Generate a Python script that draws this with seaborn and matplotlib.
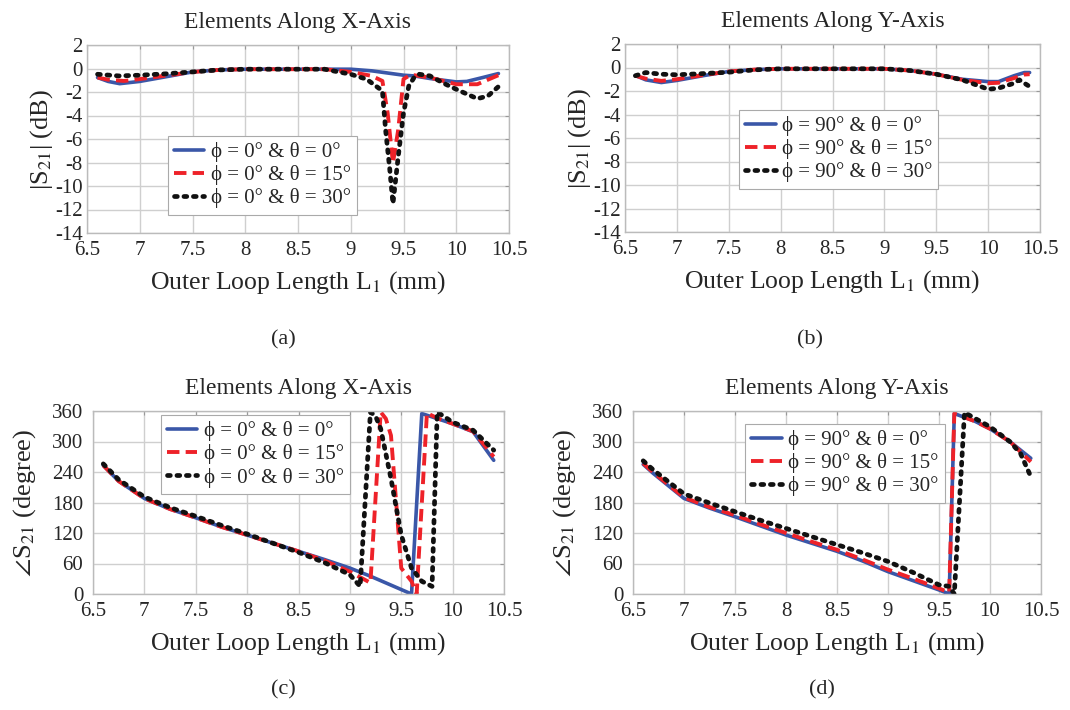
import numpy as np
import pandas as pd
import matplotlib
matplotlib.use("Agg")
import matplotlib.pyplot as plt
import seaborn as sns

# ---------------- data ----------------
# Panel (a): |S21| elements along X-axis
a_x0 = [6.6, 6.7, 6.81, 7.0, 7.25, 7.5, 7.75, 8.0, 8.5, 9.0, 9.2, 9.5, 9.6, 9.75, 10.0, 10.1, 10.25, 10.4]
a_y0 = [-0.77, -1.1, -1.29, -1.1, -0.7, -0.29, -0.12, -0.06, -0.06, -0.06, -0.2, -0.57, -0.63, -0.85, -1.14, -1.1, -0.77, -0.43]
a_x15 = [6.6, 6.7, 6.85, 7.0, 7.25, 7.5, 7.75, 8.0, 8.75, 9.0, 9.2, 9.3, 9.35, 9.4, 9.45, 9.5, 9.55, 9.6, 9.75, 10.0, 10.2, 10.4]
a_y15 = [-0.77, -0.95, -1.06, -0.9, -0.6, -0.3, -0.12, -0.06, -0.06, -0.29, -0.63, -1.06, -3.8, -8.06, -5.2, -0.9, -0.63, -0.57, -0.77, -1.34, -1.34, -0.57]
a_x30 = [6.6, 6.8, 7.0, 7.25, 7.5, 7.75, 8.0, 8.75, 9.0, 9.15, 9.3, 9.33, 9.37, 9.4, 9.45, 9.5, 9.55, 9.6, 9.65, 9.75, 9.9, 10.0, 10.2, 10.3, 10.4]
a_y30 = [-0.49, -0.63, -0.57, -0.45, -0.29, -0.12, -0.06, -0.06, -0.49, -0.91, -1.9, -5.2, -8.6, -11.5, -7.5, -3.8, -1.5, -0.77, -0.49, -0.63, -1.34, -1.77, -2.57, -2.34, -1.54]

# Panel (b): |S21| elements along Y-axis
b_x0 = [6.6, 6.7, 6.85, 7.0, 7.25, 7.5, 7.75, 8.0, 9.0, 9.25, 9.5, 9.75, 10.0, 10.1, 10.25, 10.35, 10.4]
b_y0 = [-0.68, -1.05, -1.28, -1.1, -0.7, -0.34, -0.18, -0.11, -0.11, -0.26, -0.57, -1.0, -1.2, -1.2, -0.7, -0.43, -0.43]
b_x15 = [6.6, 6.7, 6.85, 7.0, 7.25, 7.5, 7.75, 8.0, 9.0, 9.25, 9.5, 9.75, 10.0, 10.1, 10.25, 10.35, 10.4]
b_y15 = [-0.7, -0.95, -1.14, -1.0, -0.65, -0.34, -0.18, -0.11, -0.11, -0.26, -0.57, -1.05, -1.34, -1.3, -0.9, -0.6, -0.57]
b_x30 = [6.6, 6.7, 6.85, 7.0, 7.25, 7.5, 7.75, 8.0, 9.0, 9.25, 9.5, 9.75, 10.0, 10.1, 10.25, 10.3, 10.35, 10.4]
b_y30 = [-0.7, -0.43, -0.57, -0.62, -0.52, -0.4, -0.2, -0.11, -0.11, -0.26, -0.57, -1.05, -1.85, -1.76, -1.34, -1.05, -1.34, -1.62]

# Panel (c): phase, elements along X-axis
c_x0 = [6.6, 6.75, 7.0, 7.25, 7.5, 7.75, 8.0, 8.25, 8.5, 8.75, 9.0, 9.2, 9.6, 9.7, 9.85, 10.0, 10.2, 10.4]
c_y0 = [253, 222, 188, 167, 150, 132, 116, 100, 84, 68, 51, 35, 0, 355, 345, 335, 319, 263]
c_x15 = [6.6, 6.75, 7.0, 7.25, 7.5, 7.75, 8.0, 8.25, 8.5, 8.75, 9.0, 9.2, 9.3, 9.35, 9.4, 9.5, 9.6, 9.65, 9.75, 9.85, 10.0, 10.2, 10.4]
c_y15 = [253, 222, 188, 167, 150, 132, 116, 100, 84, 66, 44, 22, 358, 345, 312, 51, 25, 0, 356, 346, 335, 320, 270]
c_x30 = [6.6, 6.75, 7.0, 7.25, 7.5, 7.75, 8.0, 8.25, 8.5, 8.75, 9.0, 9.1, 9.2, 9.25, 9.3, 9.4, 9.5, 9.6, 9.7, 9.8, 9.85, 10.0, 10.2, 10.4]
c_y30 = [256, 225, 191, 170, 153, 135, 118, 100, 82, 62, 38, 15, 358, 350, 325, 227, 116, 51, 25, 15, 358, 338, 322, 283]

# Panel (d): phase, elements along Y-axis
d_x0 = [6.6, 6.7, 7.0, 7.25, 7.5, 7.75, 8.0, 8.25, 8.5, 8.75, 9.0, 9.25, 9.5, 9.6, 9.65, 9.85, 10.0, 10.2, 10.4]
d_y0 = [255, 237, 188, 169, 152, 134, 116, 100, 84, 65, 44, 26, 8, 0, 355, 340, 325, 299, 267]
d_x15 = [6.6, 6.7, 7.0, 7.25, 7.5, 7.75, 8.0, 8.25, 8.5, 8.75, 9.0, 9.25, 9.5, 9.6, 9.65, 9.85, 10.0, 10.2, 10.4]
d_y15 = [257, 239, 190, 171, 155, 137, 120, 103, 87, 68, 48, 30, 11, 3, 355, 340, 325, 299, 260]
d_x30 = [6.6, 6.7, 7.0, 7.25, 7.5, 7.75, 8.0, 8.25, 8.5, 8.75, 9.0, 9.25, 9.5, 9.6, 9.65, 9.75, 10.0, 10.2, 10.3, 10.4]
d_y30 = [262, 244, 197, 179, 162, 145, 129, 113, 97, 81, 64, 42, 18, 15, 0, 357, 329, 299, 276, 231]

x_ticks = [6.5, 7, 7.5, 8, 8.5, 9, 9.5, 10, 10.5]
x_ticklabels = ["6.5", "7", "7.5", "8", "8.5", "9", "9.5", "10", "10.5"]
mag_ticks = [2, 0, -2, -4, -6, -8, -10, -12, -14]
phase_ticks = [0, 60, 120, 180, 240, 300, 360]

titles = ["Elements Along X-Axis", "Elements Along Y-Axis", "Elements Along X-Axis", "Elements Along Y-Axis"]
captions = ["(a)", "(b)", "(c)", "(d)"]
labels_x = ["\u03d5 = 0\u00b0 & \u03b8 = 0\u00b0", "\u03d5 = 0\u00b0 & \u03b8 = 15\u00b0", "\u03d5 = 0\u00b0 & \u03b8 = 30\u00b0"]
labels_y = ["\u03d5 = 90\u00b0 & \u03b8 = 0\u00b0", "\u03d5 = 90\u00b0 & \u03b8 = 15\u00b0", "\u03d5 = 90\u00b0 & \u03b8 = 30\u00b0"]

# ---------------- style ----------------
sns.set_style("white")
SERIF = ["Liberation Serif", "DejaVu Serif"]
plt.rcParams["font.family"] = SERIF
plt.rcParams["mathtext.fontset"] = "stix"

BLUE = "#3a57a8"
RED = "#ee2229"
BLACK = "#111111"

fig = plt.figure(figsize=(10.7, 7.1), dpi=100)

W, H = 1070.0, 710.0
def mk_axes(l, t, r, b):
    return fig.add_axes([l / W, 1 - b / H, (r - l) / W, (b - t) / H])

axes = [
    mk_axes(87, 45, 509, 233),
    mk_axes(625, 44, 1040, 232),
    mk_axes(93, 411, 504, 594),
    mk_axes(633, 411, 1041, 594),
]

panel_data = [
    (a_x0, a_y0, a_x15, a_y15, a_x30, a_y30),
    (b_x0, b_y0, b_x15, b_y15, b_x30, b_y30),
    (c_x0, c_y0, c_x15, c_y15, c_x30, c_y30),
    (d_x0, d_y0, d_x15, d_y15, d_x30, d_y30),
]
legend_anchor = [(0.192, 0.516), (0.275, 0.649), (0.165, 0.978), (0.275, 0.929)]
caption_pos = [(283, 340), (810, 340), (283, 690), (822, 690)]

for i, ax in enumerate(axes):
    x0, y0, x15, y15, x30, y30 = panel_data[i]
    labs = labels_x if i in (0, 2) else labels_y
    sns.lineplot(x=x0, y=y0, ax=ax, color=BLUE, linewidth=2.6, label=labs[0], sort=False)
    sns.lineplot(x=x15, y=y15, ax=ax, color=RED, linewidth=2.8, linestyle=(0, (3.2, 1.6)), label=labs[1], sort=False)
    sns.lineplot(x=x30, y=y30, ax=ax, color=BLACK, linewidth=3.4, linestyle=(0, (0.6, 1.4)),
                 dash_capstyle="round", label=labs[2], sort=False)

    ax.set_xlim(6.5, 10.5)
    ax.set_xticks(x_ticks)
    ax.set_xticklabels(x_ticklabels)
    if i < 2:
        ax.set_ylim(-14, 2)
        ax.set_yticks(mag_ticks)
        ax.set_yticklabels([str(v) for v in mag_ticks])
        ax.set_ylabel("|S$_{21}$| (dB)", fontsize=19, labelpad=0)
        ypad = 3
    else:
        ax.set_ylim(0, 360)
        ax.set_yticks(phase_ticks)
        ax.set_yticklabels([str(v) for v in phase_ticks])
        ax.set_ylabel(r"$\angle$S$_{21}$ (degree)", fontsize=19, labelpad=10)
        ypad = 7
    ax.set_xlabel("Outer Loop Length L$_{1}$ (mm)", fontsize=18.5, labelpad=6)
    ax.set_title(titles[i], fontsize=17, pad=12)
    ax.grid(True, color="#cfcfcf", linewidth=1.0)
    ax.tick_params(axis="both", labelsize=15, direction="in", length=3, color="#999999",
                   top=True, right=True)
    ax.tick_params(axis="x", pad=6)
    ax.tick_params(axis="y", pad=ypad)
    for s in ax.spines.values():
        s.set_color("#bbbbbb")
        s.set_linewidth(1.0)
    leg = ax.legend(loc="upper left", bbox_to_anchor=legend_anchor[i], borderaxespad=0,
                    fontsize=15, frameon=True, fancybox=False, framealpha=1,
                    edgecolor="#aaaaaa", handlelength=1.45, handletextpad=0.3,
                    labelspacing=0.15, borderpad=0.3)
    leg.get_frame().set_linewidth(0.8)
    cx, cy = caption_pos[i]
    fig.text(cx / W, 1 - cy / H, captions[i], fontsize=16, ha="center", va="center")

fig.savefig("out.png", dpi=100, facecolor="white")
